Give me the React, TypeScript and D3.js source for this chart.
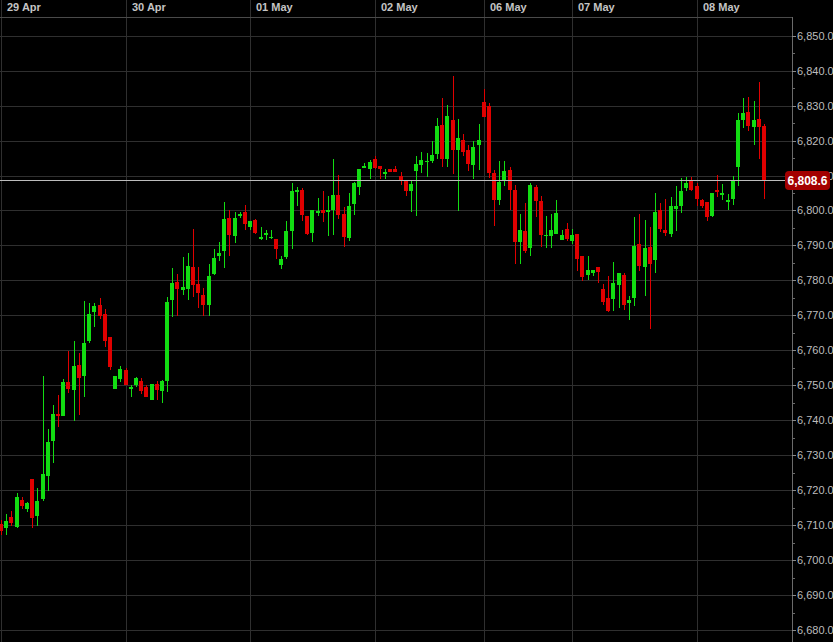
import React from "react";
import * as d3 from "d3";

const opens = [6710.4,6709.2,6712.3,6709.5,6717.3,6714.5,6723.2,6712.6,6717.5,6724.0,6734.0,6741.9,6741.2,6751.0,6748.6,6755.9,6752.6,6762.6,6771.1,6773.1,6770.4,6763.8,6749.0,6751.9,6754.3,6749.0,6750.2,6751.3,6749.4,6745.7,6750.5,6748.3,6751.3,6774.5,6779.5,6777.4,6777.5,6783.8,6779.1,6775.9,6773.1,6781.9,6786.9,6788.3,6797.9,6792.6,6798.3,6799.5,6795.3,6797.4,6791.9,6792.9,6792.0,6791.9,6784.3,6786.6,6794.0,6805.4,6805.9,6798.5,6793.5,6799.3,6800.2,6799.5,6800.2,6804.3,6799.1,6792.0,6802.0,6806.6,6812.1,6811.9,6814.7,6812.8,6810.4,6811.9,6811.9,6810.0,6808.3,6805.5,6811.2,6812.9,6813.8,6814.1,6816.1,6824.5,6814.8,6826.0,6817.2,6820.2,6817.2,6813.1,6818.6,6831.0,6829.8,6810.7,6802.9,6808.3,6811.7,6806.0,6790.9,6794.2,6789.2,6806.6,6802.8,6792.6,6792.8,6793.3,6791.6,6794.7,6791.2,6793.3,6787.1,6781.6,6782.1,6783.8,6777.6,6775.0,6774.8,6778.8,6781.6,6773.5,6775.0,6790.4,6783.7,6789.5,6785.7,6800.0,6794.3,6793.3,6800.4,6801.3,6806.4,6808.8,6806.9,6802.9,6802.4,6798.5,6805.9,6804.3,6802.4,6803.2,6812.3,6825.9,6828.3,6824.0,6826.2,6824.2];
const highs = [6711.6,6713.1,6714.0,6719.1,6718.1,6716.6,6723.2,6720.7,6752.6,6737.6,6744.5,6747.1,6751.8,6759.7,6762.6,6759.2,6774.2,6773.5,6773.5,6775.0,6771.8,6763.8,6752.6,6755.6,6755.0,6750.2,6752.3,6752.1,6750.2,6750.4,6751.2,6751.6,6775.2,6783.5,6781.9,6786.7,6787.8,6794.7,6783.8,6777.8,6784.8,6789.0,6790.9,6802.5,6800.2,6799.7,6799.7,6801.6,6797.0,6797.7,6795.2,6794.3,6794.3,6791.9,6787.1,6796.9,6807.8,6806.7,6806.4,6798.5,6800.2,6803.5,6805.6,6804.2,6814.8,6810.2,6800.9,6805.0,6808.1,6811.9,6813.6,6814.5,6815.7,6812.8,6811.9,6811.9,6812.8,6811.0,6808.3,6808.3,6815.5,6816.6,6816.4,6819.8,6826.6,6832.1,6830.2,6838.5,6826.1,6821.9,6818.8,6819.8,6824.8,6834.7,6830.7,6811.7,6814.1,6814.3,6812.4,6807.2,6799.0,6802.1,6807.8,6807.3,6804.2,6798.5,6799.0,6803.1,6794.5,6796.4,6794.7,6793.3,6787.1,6786.9,6782.9,6783.8,6778.9,6781.2,6785.2,6782.1,6782.1,6775.6,6798.0,6799.0,6797.3,6795.2,6805.0,6802.1,6803.2,6803.8,6806.9,6809.2,6809.5,6809.5,6807.8,6803.2,6802.4,6805.0,6810.2,6807.6,6804.8,6809.9,6828.0,6832.3,6832.6,6831.2,6836.7,6824.8];
const lows = [6707.3,6707.3,6709.7,6709.2,6714.5,6713.7,6709.2,6709.7,6716.9,6719.7,6727.8,6738.0,6741.2,6747.8,6739.7,6741.4,6746.6,6762.1,6766.6,6769.0,6760.9,6754.3,6749.0,6751.0,6750.2,6746.7,6749.4,6747.5,6746.6,6745.7,6745.9,6744.8,6748.0,6769.5,6769.9,6775.9,6774.3,6775.3,6772.1,6769.9,6769.9,6781.6,6785.5,6783.5,6787.1,6790.7,6797.8,6794.3,6794.3,6793.4,6791.6,6791.6,6791.8,6786.2,6783.4,6786.1,6789.0,6801.4,6797.1,6793.1,6790.9,6798.3,6796.6,6792.6,6793.1,6797.6,6789.7,6791.2,6798.6,6804.5,6812.1,6809.1,6811.9,6809.1,6809.1,6811.0,6811.0,6807.4,6804.2,6799.5,6798.3,6810.7,6809.6,6813.6,6814.8,6812.3,6812.4,6810.5,6799.8,6815.5,6811.4,6809.1,6811.7,6826.7,6809.3,6795.7,6801.5,6806.9,6800.1,6784.8,6784.8,6787.9,6786.9,6798.0,6789.5,6789.4,6789.2,6793.3,6791.6,6791.2,6790.4,6782.8,6779.7,6780.2,6781.2,6779.4,6773.1,6770.9,6771.3,6772.1,6771.4,6768.6,6772.8,6782.6,6775.4,6766.0,6782.1,6793.8,6792.8,6792.4,6794.0,6799.4,6805.7,6805.7,6801.4,6800.7,6797.1,6798.0,6804.0,6802.9,6800.0,6801.6,6806.9,6823.5,6822.6,6818.6,6814.7,6803.3];
const closes = [6708.3,6711.3,6710.5,6718.1,6715.4,6716.2,6712.0,6716.8,6724.5,6733.8,6741.9,6741.3,6751.0,6748.8,6755.6,6752.1,6762.1,6770.5,6772.6,6769.9,6762.6,6755.2,6752.6,6754.7,6750.2,6749.5,6752.1,6748.5,6746.6,6750.4,6748.6,6751.3,6773.7,6779.3,6777.5,6778.2,6784.2,6778.8,6776.4,6772.9,6781.4,6786.4,6787.7,6797.7,6792.9,6797.9,6799.0,6796.1,6797.0,6793.5,6792.5,6793.5,6792.5,6789.0,6786.2,6794.2,6805.6,6805.9,6798.7,6793.4,6800.2,6799.8,6799.3,6800.0,6804.5,6798.8,6792.3,6801.4,6807.9,6811.9,6812.8,6813.8,6812.1,6811.9,6811.0,6811.0,6811.0,6808.5,6805.7,6807.7,6813.3,6814.5,6814.3,6816.0,6824.1,6814.7,6827.1,6817.2,6820.7,6816.7,6813.3,6818.1,6820.2,6826.7,6810.7,6803.1,6808.1,6811.4,6805.8,6791.0,6794.5,6788.5,6807.2,6802.8,6792.9,6793.1,6794.5,6799.2,6793.1,6791.9,6792.9,6786.1,6780.9,6783.1,6782.9,6782.3,6773.7,6771.3,6779.2,6782.1,6773.1,6774.5,6789.9,6784.0,6789.4,6784.8,6799.7,6794.8,6793.5,6801.3,6801.3,6805.7,6807.8,6805.9,6803.3,6801.3,6798.0,6805.0,6805.4,6805.0,6803.1,6808.5,6825.9,6828.0,6824.3,6825.9,6824.0,6808.6];

const dayLabels = ["29 Apr", "30 Apr", "01 May", "02 May", "06 May", "07 May", "08 May"];
const dayStartIndex = [0, 24, 48, 72, 93, 110, 134];
const priceTicks = d3.range(6680, 6851, 10);
const minorTicks = d3.range(6685, 6850, 10);
const lastPrice = 6808.6;

const W = 833;
const H = 642;
const AXIS_X = 792;
const HEADER_H = 17;
const GREEN = "#12dd12";
const RED = "#e00000";
const GRID = "#2f2f2f";
const FONT = "'Liberation Sans', Arial, Helvetica, sans-serif";

export default function App() {
  const x = d3.scaleLinear().domain([0, opens.length - 1]).range([1, 764]);
  const y = d3.scaleLinear().domain([6680, 6850]).range([630, 35.7]);
  const fmt = d3.format(",.1f");

  const candles = opens.map((o, i) => ({ o, h: highs[i], l: lows[i], c: closes[i], i }));

  return (
    <svg
      width={W}
      height={H}
      style={{ position: "absolute", left: 0, top: 0, background: "#000" }}
      fontFamily={FONT}
    >
      <rect x={0} y={0} width={W} height={H} fill="#000" />
      {/* horizontal grid */}
      <g shapeRendering="crispEdges">
        {priceTicks.map((t) => (
          <line key={t} x1={0} x2={AXIS_X} y1={Math.round(y(t)) + 0.5} y2={Math.round(y(t)) + 0.5} stroke={GRID} strokeWidth={1} />
        ))}
        {dayStartIndex.map((di, k) => (
          <line key={k} x1={Math.round(x(di)) + 0.5} x2={Math.round(x(di)) + 0.5} y1={0} y2={H} stroke={GRID} strokeWidth={1} />
        ))}
        <line x1={0} x2={AXIS_X} y1={HEADER_H + 0.5} y2={HEADER_H + 0.5} stroke="#4a4a4a" strokeWidth={1.5} />
      </g>
      {/* header labels */}
      {dayLabels.map((lab, k) => (
        <text key={lab} x={Math.round(x(dayStartIndex[k])) + 6} y={11} fontSize={11} fontWeight="bold" fill="#c4c4c4">
          {lab}
        </text>
      ))}
      {/* candles */}
      <g shapeRendering="crispEdges">
        {candles.map((d) => {
          const cx = Math.round(x(d.i));
          const up = d.c >= d.o;
          const col = up ? GREEN : RED;
          const top = y(Math.max(d.o, d.c));
          const bot = y(Math.min(d.o, d.c));
          return (
            <g key={d.i}>
              <rect x={cx} y={y(d.h)} width={1} height={Math.max(1, y(d.l) - y(d.h))} fill={col} />
              <rect x={cx - 2} y={top} width={4} height={Math.max(1.5, bot - top)} fill={col} />
            </g>
          );
        })}
      </g>
      {/* last price line */}
      <line x1={0} x2={AXIS_X} y1={Math.round(y(lastPrice)) + 0.5} y2={Math.round(y(lastPrice)) + 0.5} stroke="#bdbdbd" strokeWidth={1} shapeRendering="crispEdges" />
      {/* right axis */}
      <g shapeRendering="crispEdges">
        <line x1={AXIS_X + 0.5} x2={AXIS_X + 0.5} y1={HEADER_H} y2={H} stroke="#6a6a6a" strokeWidth={1} />
        {priceTicks.map((t) => (
          <line key={t} x1={AXIS_X} x2={AXIS_X + 4} y1={Math.round(y(t)) + 0.5} y2={Math.round(y(t)) + 0.5} stroke="#8a8a8a" />
        ))}
        {minorTicks.map((t) => (
          <line key={t} x1={AXIS_X} x2={AXIS_X + 3} y1={Math.round(y(t)) + 0.5} y2={Math.round(y(t)) + 0.5} stroke="#6a6a6a" />
        ))}
      </g>
      {priceTicks.map((t) => (
        <text key={t} x={AXIS_X + 5} y={y(t) + 4} fontSize={11} fill="#bdbdbd">
          {fmt(t)}
        </text>
      ))}
      {/* last price badge */}
      <rect x={785} y={y(lastPrice) - 9.5} width={45} height={19} rx={4} fill="#a30000" />
      <text x={807.5} y={y(lastPrice) + 4.5} fontSize={12} fontWeight="bold" fill="#ffffff" textAnchor="middle">
        {fmt(lastPrice)}
      </text>
    </svg>
  );
}
